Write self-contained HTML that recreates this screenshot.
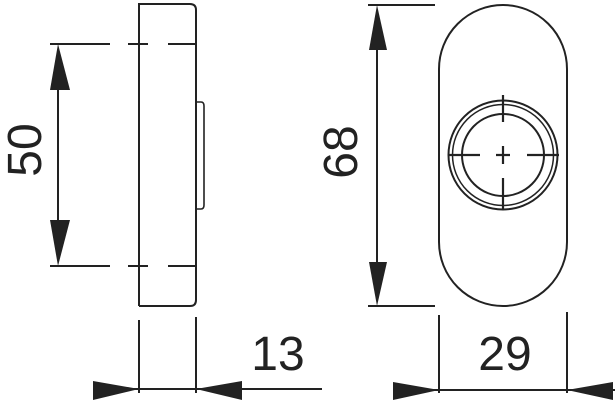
<!DOCTYPE html>
<html><head><style>
html,body{margin:0;padding:0;background:#fff;width:615px;height:406px;overflow:hidden}
svg{display:block}
text{font-family:"Liberation Sans",sans-serif;fill:#222}
</style></head><body>
<svg width="615" height="406" viewBox="0 0 615 406" xmlns="http://www.w3.org/2000/svg">
<g stroke="#222" fill="none" stroke-width="2">
<path d="M139,306 V4 H190 Q196,4 196,10 V300 Q196,306 190,306 H139"/>
<path d="M196,102 H201 Q204,102 204,106 V205 Q204,209 201,209 H196" stroke-width="1.6"/>
<path d="M50,44 H110 M128,44 H148 M168,44 H195 M50,266 H110 M128,266 H148 M168,266 H195"/>
<path d="M58,80 V230"/>
<path d="M139,320 V393 M196,317 V393 M120,389 H322"/>
<path d="M368,5 H435 M368,306 H435 M377,40 V270"/>
<rect x="439" y="5" width="128" height="301" rx="64" ry="64"/>
<circle cx="503" cy="155" r="54.5"/>
<circle cx="503" cy="155" r="50.5" stroke-width="1.5"/>
<circle cx="503" cy="155" r="41"/>
<path d="M448,155 H480 M496,155 H510 M527,155 H559 M503,95 V122 M503,146 V164 M503,178 V210" stroke-width="2.2"/>
<path d="M439,315 V393 M567,312 V393 M420,390 H615"/>
</g>
<g fill="#222">
<polygon points="58,44 50,90 70,90"/>
<polygon points="58,266 50,220 70,220"/>
<polygon points="139,389 93,381 93,400"/>
<polygon points="196,389 242,381 242,400"/>
<polygon points="377,5 369,50 387,50"/>
<polygon points="377,306 369,262 387,262"/>
<polygon points="439,390 393,382 393,400"/>
<polygon points="567,390 613,382 613,400"/>
</g>
<text x="0" y="0" font-size="48" transform="translate(41,150) rotate(-90)" text-anchor="middle">50</text>
<text x="0" y="0" font-size="48" transform="translate(357,152) rotate(-90)" text-anchor="middle">68</text>
<text x="278" y="370" font-size="48" text-anchor="middle">13</text>
<text x="505" y="370" font-size="48" text-anchor="middle">29</text>
</svg>
</body></html>
